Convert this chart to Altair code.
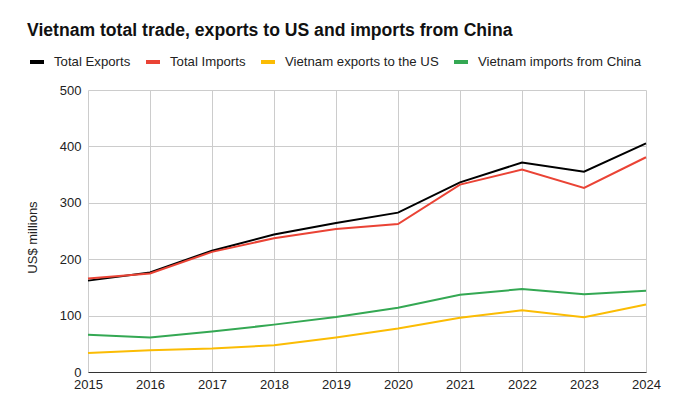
import altair as alt
import pandas as pd

years = list(range(2015, 2025))
series_names = ["Total Exports", "Total Imports", "Vietnam exports to the US", "Vietnam imports from China"]
series_colors = ["#000000", "#ea4335", "#fbbc04", "#34a853"]
total_exports = [162.0, 176.6, 215.1, 243.7, 264.2, 282.6, 336.3, 371.3, 355.0, 405.5]
total_imports = [165.7, 174.8, 213.0, 237.2, 253.4, 262.4, 332.3, 358.9, 326.4, 380.8]
exports_us = [33.5, 38.5, 41.6, 47.5, 61.3, 77.1, 96.3, 109.4, 97.0, 119.5]
imports_china = [66.0, 61.1, 71.6, 84.0, 97.5, 114.0, 137.0, 147.0, 138.0, 144.0]

rows = []
for name, vals in zip(series_names, [total_exports, total_imports, exports_us, imports_china]):
    for y, v in zip(years, vals):
        rows.append({"Year": y, "Value": v, "Series": name})
df = pd.DataFrame(rows)

FONT = "Liberation Sans"

chart = alt.Chart(df).mark_line(strokeWidth=2).encode(
    x=alt.X("Year:Q",
            scale=alt.Scale(domain=[2015, 2024], nice=False, zero=False),
            axis=alt.Axis(values=years, format="d", title=None, grid=True,
                          gridColor="#cccccc", domainColor="#333333", ticks=False,
                          labelFontSize=13, labelColor="#222222", labelPadding=6,
                          labelFlush=False, labelOverlap=False, labelBound=False,
                          labelFont=FONT)),
    y=alt.Y("Value:Q",
            scale=alt.Scale(domain=[0, 500], nice=False),
            axis=alt.Axis(values=[0, 100, 200, 300, 400, 500], title="US$ millions",
                          grid=True, gridColor="#cccccc", domain=False, ticks=False,
                          labelFontSize=13, labelColor="#222222", labelPadding=7,
                          labelFlush=False,
                          titleFontSize=13, titleFontWeight="normal", titleColor="#222222",
                          titleFont=FONT, labelFont=FONT, titlePadding=20, titleY=147)),
    color=alt.Color("Series:N",
                    scale=alt.Scale(domain=series_names, range=series_colors),
                    sort=series_names,
                    legend=alt.Legend(title=None, orient="none", direction="horizontal",
                                      legendX=-60, legendY=-37,
                                      symbolType="stroke", symbolSize=196,
                                      symbolStrokeWidth=4,
                                      labelFontSize=13.2, labelColor="#222222", labelFont=FONT,
                                      labelLimit=300,
                                      columnPadding=7, symbolOffset=0, labelOffset=8)),
).properties(
    width=558, height=282,
    title=alt.TitleParams("Vietnam total trade, exports to US and imports from China",
                          anchor="start", frame="group", dx=-61, offset=13,
                          fontSize=17.6, fontWeight="bold", color="#111111", font=FONT),
    autosize=alt.AutoSizeParams(type="none"),
    padding={"left": 80, "top": 82, "right": 37, "bottom": 25},
).configure_view(stroke=None)

chart.save("out.html", embed_options={"renderer": "svg", "actions": False})
